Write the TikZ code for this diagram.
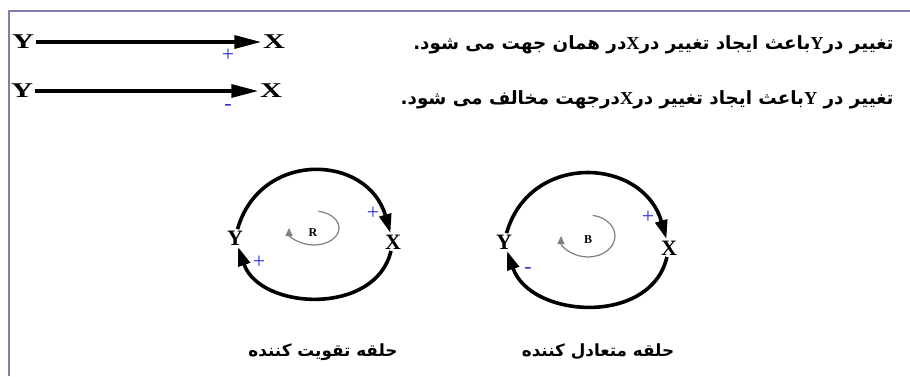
\documentclass[tikz,border=0pt]{standalone}
\usepackage{fontspec}
\setmainfont{Liberation Serif}
\newfontfamily\arabicfont[Script=Arabic]{DejaVu Sans}
\TeXXeTstate=1
\usetikzlibrary{arrows.meta}
\definecolor{framecol}{RGB}{125,125,175}
\definecolor{signblue}{RGB}{50,50,220}
\newcommand{\wideletter}[1]{\scalebox{1.45}[1]{#1}}
\begin{document}
\begin{tikzpicture}[x=1pt,y=1pt,
  lat/.style={font=\fontsize{21}{21}\selectfont\bfseries, inner sep=1.5pt},
  looplab/.style={font=\fontsize{22}{22}\selectfont\bfseries, inner sep=1.5pt},
  fa/.style={font=\arabicfont\bfseries\fontsize{18.3}{22}\selectfont},
  facap/.style={font=\arabicfont\bfseries\fontsize{16.8}{20}\selectfont},
  bigarrow/.style={line width=3.3pt, -{Triangle[length=27pt,width=13pt]}},
  loopline/.style={line width=3.6pt, -{Triangle[length=19pt,width=12pt]}},
  innerarc/.style={gray, line width=1.2pt, -{Triangle[length=8pt,width=7pt]}},
  sign/.style={text=signblue, font=\fontsize{22}{22}\selectfont, inner sep=0pt},
  small/.style={font=\fontsize{12}{12}\selectfont\bfseries, inner sep=1pt}]
\fill[white] (0,0) rectangle (910,376);
\useasboundingbox (0,0) rectangle (910,376);
\draw[framecol, line width=2pt] (9,0) -- (9,365) -- (910,365);

% legend arrows
\node[lat] (y1) at (23,334) {\wideletter{Y}};
\node[lat] (x1) at (274,334) {\wideletter{X}};
\draw[bigarrow] (y1) -- (x1);
\node[sign] (p1) at (228,321) {+};
\node[lat] (y2) at (22,285) {\wideletter{Y}};
\node[lat] (x2) at (271,285) {\wideletter{X}};
\draw[bigarrow] (y2) -- (x2);
\node[sign] (m1) at (228,269) {-};

\node[fa, anchor=east] (t1) at (897,331) {\beginR تغییر در\beginL{\rmfamily\bfseries Y}\endL باعث ایجاد تغییر در\beginL{\rmfamily\bfseries X}\endL در همان جهت می شود.\endR};
\node[fa, anchor=east] (t2) at (897,276) {\beginR تغییر در \beginL{\rmfamily\bfseries Y}\endL باعث ایجاد تغییر در\beginL{\rmfamily\bfseries X}\endL درجهت مخالف می شود.\endR};

% reinforcing loop
\node[looplab] (ly) at (235,138) {Y};
\node[looplab] (lx) at (393,134) {X};
\draw[loopline] (ly) to[out=74,in=106,looseness=1.38] (lx);
\draw[loopline] (lx) to[out=-103,in=-71,looseness=1.12] (ly);
\node[small] (r) at (313,143) {R};
\coordinate (rc) at (314,148);
\draw[innerarc] (rc) ++(80:25 and 17) arc[start angle=80, end angle=-180, x radius=25, y radius=17];
\node[sign] (p2) at (373,163) {+};
\node[sign] (p3) at (259,114) {+};
\node[facap] (c1) at (323,24) {\beginR حلقه تقویت کننده\endR};

% balancing loop
\node[looplab] (by) at (504,134) {Y};
\node[looplab] (bx) at (669,128) {X};
\draw[loopline] (by) to[out=74,in=106,looseness=1.36] (bx);
\draw[loopline] (bx) to[out=-103,in=-71,looseness=1.14] (by);
\node[small] (b) at (588,136) {B};
\coordinate (bc) at (588,140);
\draw[innerarc] (bc) ++(80:27 and 21) arc[start angle=80, end angle=-180, x radius=27, y radius=21];
\node[sign] (p4) at (648,159) {+};
\node[sign] (m2) at (528,106) {-};
\node[facap] (c2) at (598,24) {\beginR حلقه متعادل کننده\endR};
\end{tikzpicture}
\end{document}
